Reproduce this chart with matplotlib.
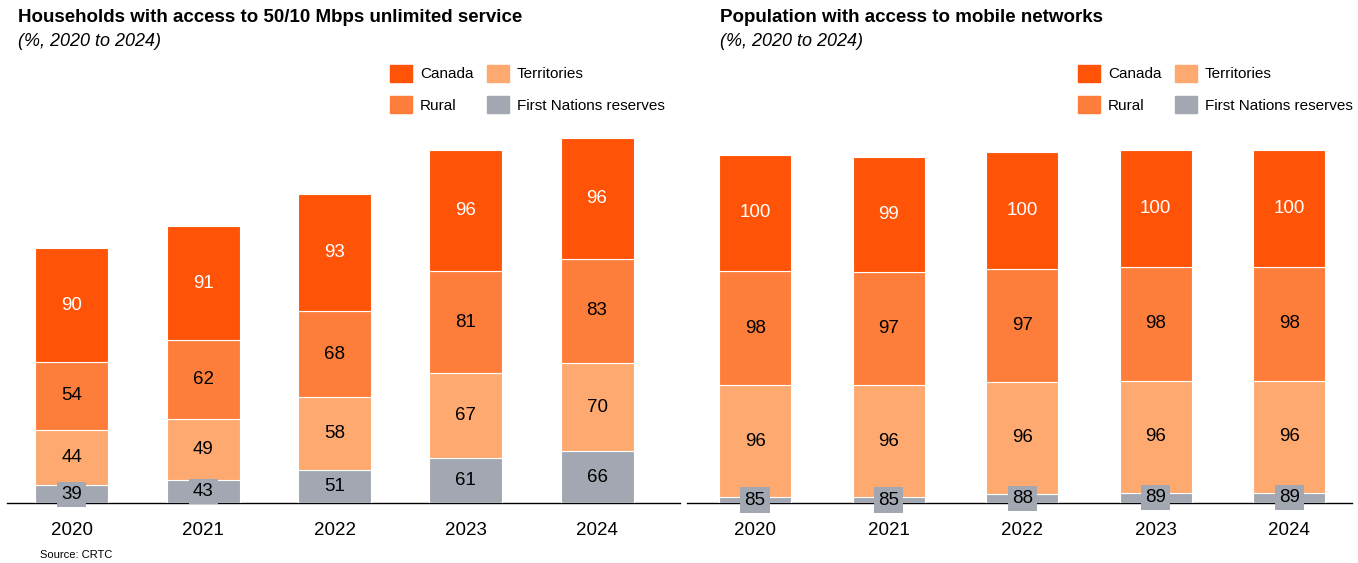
import numpy as np
import matplotlib.pyplot as plt
from matplotlib.patches import Patch

plt.rcParams['font.family'] = ['Liberation Sans', 'DejaVu Sans']

years = ["2020", "2021", "2022", "2023", "2024"]
series = ["First Nations reserves", "Territories", "Rural", "Canada"]

# 50/10 Mbps unlimited, households (%)
fixed_fn = [39, 43, 51, 61, 66]
fixed_terr = [44, 49, 58, 67, 70]
fixed_rural = [54, 62, 68, 81, 83]
fixed_canada = [90, 91, 93, 96, 96]

# mobile networks, population (%)
mob_fn = [85, 85, 88, 89, 89]
mob_terr = [96, 96, 96, 96, 96]
mob_rural = [98, 97, 97, 98, 98]
mob_canada = [100, 99, 100, 100, 100]

colors = {"Canada": "#FF5308", "Rural": "#FD7D3A",
          "Territories": "#FDA970", "First Nations reserves": "#A2A7B1"}

W, H = 1358, 563
fig = plt.figure(figsize=(W / 100, H / 100), dpi=100)


def px(x0, y0, x1, y1):
    # pixel box (from top-left) -> figure fraction rect
    return [x0 / W, 1 - y1 / H, (x1 - x0) / W, (y1 - y0) / H]


def stacked(ax, data, base, width):
    x = np.arange(len(years))
    bottom = np.array(data[0], dtype=float)
    # lowest segment starts at the axis floor
    ax.bar(x, np.array(data[0]) - base, width, bottom=base,
           color=colors[series[0]], edgecolor="white", linewidth=0.8)
    for i, v in enumerate(data[0]):
        ax.text(x[i], (base + v) / 2, str(v), ha="center", va="center",
                fontsize=13.5, color="black",
                bbox=dict(boxstyle="square,pad=0.22", fc=colors[series[0]], ec="none"))
    for name, vals in zip(series[1:], data[1:]):
        vals = np.array(vals, dtype=float)
        ax.bar(x, vals, width, bottom=bottom, color=colors[name],
               edgecolor="white", linewidth=0.8)
        tc = "white" if name == "Canada" else "black"
        for i, v in enumerate(vals):
            ax.text(x[i], bottom[i] + v / 2, str(int(v)), ha="center",
                    va="center", fontsize=13.5, color=tc)
        bottom = bottom + vals
    ax.set_xticks(x)
    ax.set_xticklabels(years, fontsize=13.5)
    ax.tick_params(axis="x", length=0, pad=14)
    ax.set_yticks([])
    for s in ["top", "right", "left"]:
        ax.spines[s].set_visible(False)
    ax.spines["bottom"].set_linewidth(1.0)
    ax.spines["bottom"].set_zorder(0.5)


ax1 = fig.add_axes(px(7, 130, 680, 503))
stacked(ax1, [fixed_fn, fixed_terr, fixed_rural, fixed_canada], 25, 0.556)
ax1.set_xlim(-0.495, 4.632)
ax1.set_ylim(25, 25 + 373 / 1.26)

ax2 = fig.add_axes(px(687, 130, 1352, 503))
stacked(ax2, [mob_fn, mob_terr, mob_rural, mob_canada], 80, 0.54)
ax2.set_xlim(-0.51, 4.47)
ax2.set_ylim(80, 80 + 373 / 1.165)

handles = [Patch(color=colors[n]) for n in ["Canada", "Rural", "Territories", "First Nations reserves"]]
labels = ["Canada", "Rural", "Territories", "First Nations reserves"]
for lx in [390, 1078]:
    fig.legend(handles, labels, ncol=2, frameon=False, loc="upper left",
               bbox_to_anchor=(lx / W, 1 - 65 / H), borderpad=0, fontsize=11,
               handlelength=1.45, handleheight=1.3, handletextpad=0.5,
               labelspacing=0.95, columnspacing=0.9, borderaxespad=0)

fig.text(18 / W, 1 - 18 / H, "Households with access to 50/10 Mbps unlimited service",
         fontsize=13.5, fontweight="bold", va="center")
fig.text(18 / W, 1 - 41 / H, "(%, 2020 to 2024)", fontsize=13, style="italic", va="center")
fig.text(720 / W, 1 - 18 / H, "Population with access to mobile networks",
         fontsize=13.5, fontweight="bold", va="center")
fig.text(720 / W, 1 - 41 / H, "(%, 2020 to 2024)", fontsize=13, style="italic", va="center")
fig.text(40 / W, 1 - 555 / H, "Source: CRTC", fontsize=8, va="center")

fig.savefig("out.png", dpi=100)
